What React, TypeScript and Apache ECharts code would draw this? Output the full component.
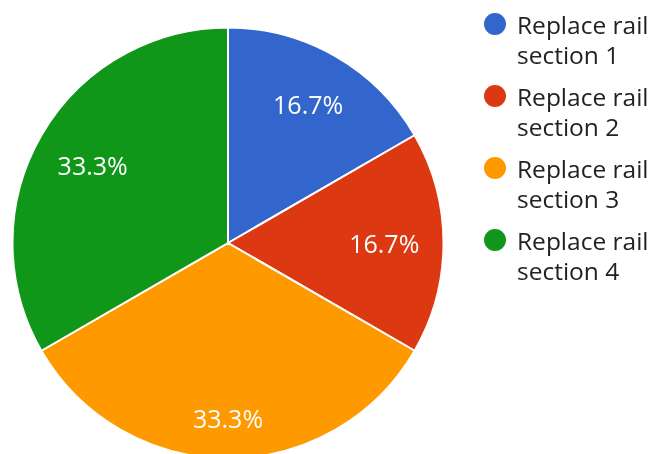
import React, { useEffect, useRef } from "react";
import * as echarts from "echarts";

const categories = [
  "Replace rail section 1",
  "Replace rail section 2",
  "Replace rail section 3",
  "Replace rail section 4",
];
const values = [1, 1, 2, 2];
const colors = ["#3366cc", "#dc3912", "#ff9900", "#109618"];
const labelOffsets = [[2, -4], [0, 0], [0, 19], [0, 0]];

// circle of radius 12 at the top-left of a 29x60 box (so it sits beside the first text line)
const legendIcon =
  "path://M0,0 M29,60 M24,15 A12,12 0 1,1 0,15 A12,12 0 1,1 24,15 Z";

export default function App() {
  const ref = useRef<HTMLDivElement>(null);
  useEffect(() => {
    if (!ref.current) return;
    const chart = echarts.init(ref.current, null, { renderer: "svg" });
    const font = "'Open Sans', 'Noto Sans', sans-serif";
    chart.setOption({
      animation: false,
      color: colors,
      legend: {
        orient: "vertical",
        left: 482,
        top: 8,
        padding: 0,
        icon: legendIcon,
        itemWidth: 29,
        itemHeight: 60,
        itemGap: 10,
        selectedMode: false,
        data: categories,
        formatter: (name: string) => name.replace(" section", "\nsection"),
        textStyle: {
          fontFamily: font,
          fontSize: 24.5,
          color: "#222222",
          lineHeight: 30,
        },
      },
      series: [
        {
          type: "pie",
          center: [228, 243],
          radius: [0, 215.5],
          startAngle: 90,
          clockwise: true,
          label: { show: false },
          labelLine: { show: false },
          itemStyle: { borderColor: "#ffffff", borderWidth: 2 },
          emphasis: { disabled: true },
          data: categories.map((name, i) => ({ name, value: values[i] })),
        },
        {
          type: "pie",
          center: [228, 243],
          radius: [91, 215.5],
          startAngle: 90,
          clockwise: true,
          silent: true,
          percentPrecision: 1,
          legendHoverLink: false,
          itemStyle: { color: "rgba(0,0,0,0)" },
          emphasis: { disabled: true },
          label: {
            show: true,
            position: "inside",
            formatter: "{d}%",
            color: "#ffffff",
            fontFamily: font,
            fontSize: 25,
          },
          labelLine: { show: false },
          data: categories.map((name, i) => ({
            name: name + " ",
            value: values[i],
            label: { offset: labelOffsets[i] },
          })),
        },
      ],
    });
    return () => chart.dispose();
  }, []);
  return (
    <div
      ref={ref}
      style={{ position: "fixed", left: 0, top: 0, width: 651, height: 454 }}
    />
  );
}
